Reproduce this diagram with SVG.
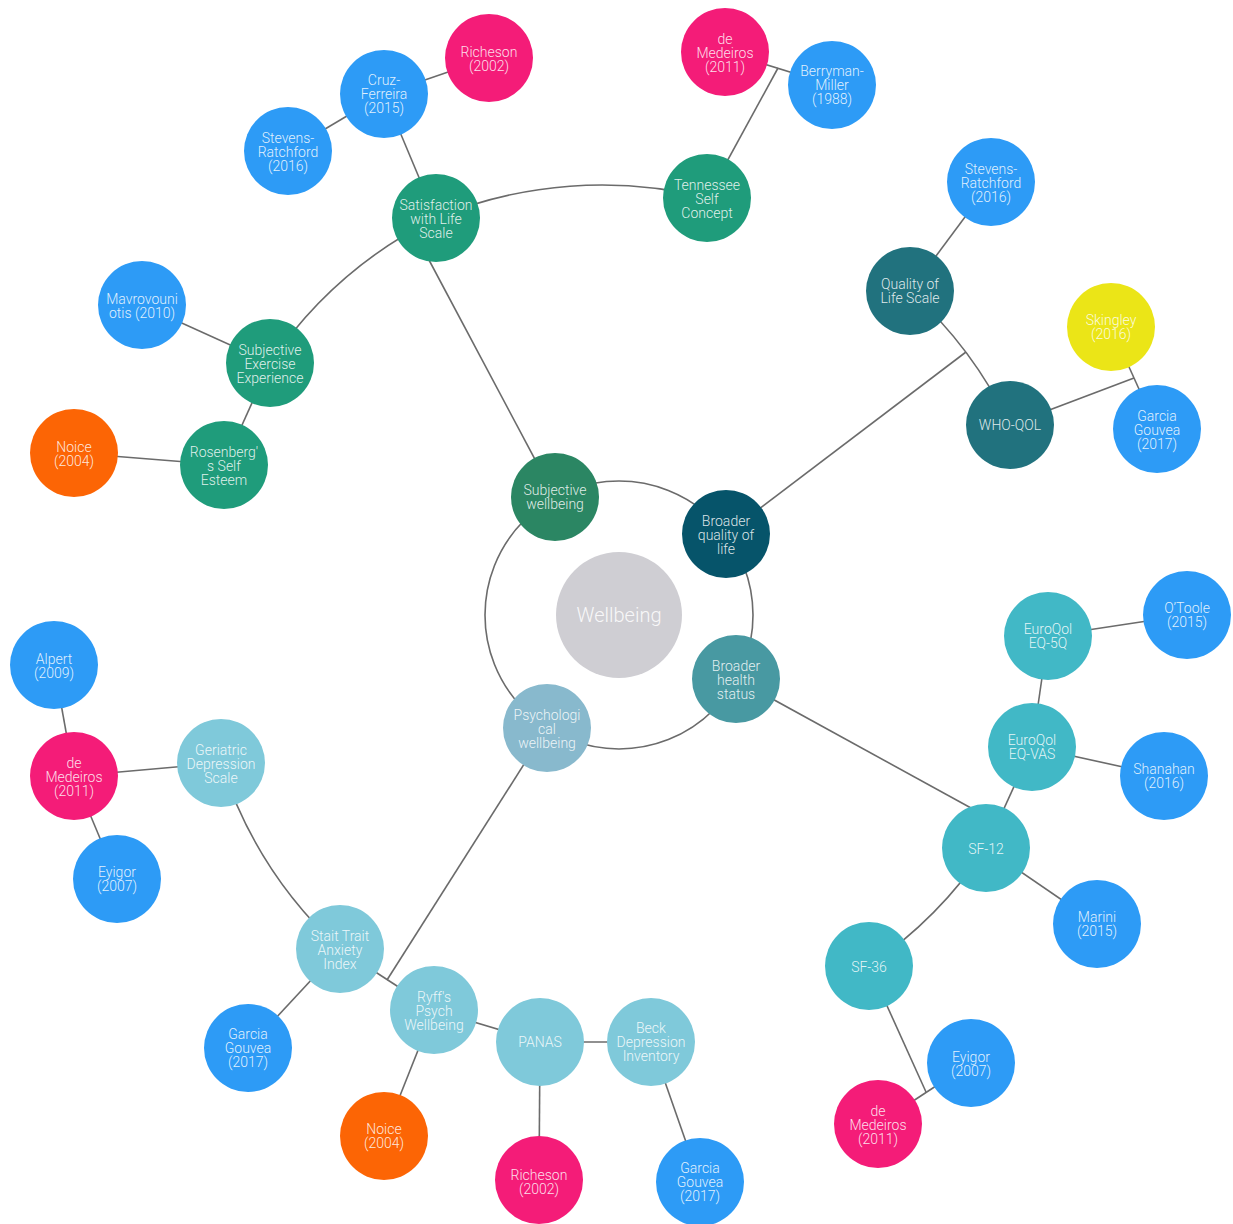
<svg xmlns="http://www.w3.org/2000/svg" width="1233" height="1224" viewBox="0 0 1233 1224">
<style>
.e{fill:none;stroke:#6b6b6b;stroke-width:1.6}
text{font-family:Roboto,"Liberation Sans",sans-serif;font-weight:300;font-size:14px;fill:#fff;fill-opacity:0.86;text-anchor:middle}
.ref{fill:#2d9bf6}.pink{fill:#f41c78}.org{fill:#fc6505}.yel{fill:#ebe517}
.grn{fill:#1f9c7b}.teal{fill:#21727e}.sf{fill:#41b8c6}.psy{fill:#7fc9da}
</style>
<rect width="1233" height="1224" fill="#fff"/>
<g id="connectors">
<circle class="e" cx="619" cy="615" r="134"/>
<path class="e" d="M555,497 L429,260"/>
<path class="e" d="M436,218 L384,94"/>
<path class="e" d="M384,94 L489,58"/>
<path class="e" d="M384,94 L288,151"/>
<path class="e" d="M436,218 A433,433 0 0 1 707,198"/>
<path class="e" d="M270,363 A433,433 0 0 1 436,218"/>
<path class="e" d="M707,198 L778,68"/>
<path class="e" d="M725,52 L832,85"/>
<path class="e" d="M270,363 L142,305"/>
<path class="e" d="M270,363 L224,465"/>
<path class="e" d="M224,465 L74,453"/>
<path class="e" d="M726,534 L966,352"/>
<path class="e" d="M910,291 A433,433 0 0 1 1010,425"/>
<path class="e" d="M910,291 L991,182"/>
<path class="e" d="M1010,425 L1134,378"/>
<path class="e" d="M1111,327 L1157,429"/>
<path class="e" d="M736,679 L971,808"/>
<path class="e" d="M986,848 L1032,747"/>
<path class="e" d="M1032,747 L1048,636"/>
<path class="e" d="M1048,636 L1187,615"/>
<path class="e" d="M1032,747 L1164,776"/>
<path class="e" d="M986,848 L1097,924"/>
<path class="e" d="M986,848 A433,433 0 0 1 869,966"/>
<path class="e" d="M869,966 L926,1092"/>
<path class="e" d="M971,1063 L878,1124"/>
<path class="e" d="M547,728 L387,980"/>
<path class="e" d="M340,949 L434,1010"/>
<path class="e" d="M340,949 L248,1048"/>
<path class="e" d="M434,1010 L384,1136"/>
<path class="e" d="M434,1010 L540,1042"/>
<path class="e" d="M540,1042 L651,1042"/>
<path class="e" d="M540,1042 L539,1180"/>
<path class="e" d="M651,1042 L700,1182"/>
<path class="e" d="M340,949 A433,433 0 0 1 221,763"/>
<path class="e" d="M221,763 L74,776"/>
<path class="e" d="M74,776 L54,665"/>
<path class="e" d="M74,776 L117,879"/>
</g>
<g id="n-wellbeing"><circle cx="619" cy="615" r="63" fill="#cfced3"/><text x="619" y="622" style="font-size:20px">Wellbeing</text></g>
<g id="n-subjective"><circle cx="555" cy="497" r="44" fill="#2b8663"/><text x="555" y="495">Subjective</text><text x="555" y="509">wellbeing</text></g>
<g id="n-bqol"><circle cx="726" cy="534" r="44" fill="#06546a"/><text x="726" y="526">Broader</text><text x="726" y="540">quality of</text><text x="726" y="554">life</text></g>
<g id="n-bhs"><circle cx="736" cy="679" r="44" fill="#4899a2"/><text x="736" y="671">Broader</text><text x="736" y="685">health</text><text x="736" y="699">status</text></g>
<g id="n-psych"><circle cx="547" cy="728" r="44" fill="#88b9cd"/><text x="547" y="720">Psychologi</text><text x="547" y="734">cal</text><text x="547" y="748">wellbeing</text></g>
<g id="n-swls"><circle class="grn" cx="436" cy="218" r="44"/><text x="436" y="210">Satisfaction</text><text x="436" y="224">with Life</text><text x="436" y="238">Scale</text></g>
<g id="n-cruz"><circle class="ref" cx="384" cy="94" r="44"/><text x="384" y="85">Cruz-</text><text x="384" y="99">Ferreira</text><text x="384" y="113">(2015)</text></g>
<g id="n-richeson1"><circle class="pink" cx="489" cy="58" r="44"/><text x="489" y="57">Richeson</text><text x="489" y="71">(2002)</text></g>
<g id="n-stevens1"><circle class="ref" cx="288" cy="151" r="44"/><text x="288" y="143">Stevens-</text><text x="288" y="157">Ratchford</text><text x="288" y="171">(2016)</text></g>
<g id="n-tennessee"><circle class="grn" cx="707" cy="198" r="44"/><text x="707" y="190">Tennessee</text><text x="707" y="204">Self</text><text x="707" y="218">Concept</text></g>
<g id="n-demedeiros1"><circle class="pink" cx="725" cy="52" r="44"/><text x="725" y="44">de</text><text x="725" y="58">Medeiros</text><text x="725" y="72">(2011)</text></g>
<g id="n-berryman"><circle class="ref" cx="832" cy="85" r="44"/><text x="832" y="76">Berryman-</text><text x="832" y="90">Miller</text><text x="832" y="104">(1988)</text></g>
<g id="n-see"><circle class="grn" cx="270" cy="363" r="44"/><text x="270" y="355">Subjective</text><text x="270" y="369">Exercise</text><text x="270" y="383">Experience</text></g>
<g id="n-mavro"><circle class="ref" cx="142" cy="305" r="44"/><text x="142" y="304">Mavrovouni</text><text x="142" y="318">otis (2010)</text></g>
<g id="n-rosenberg"><circle class="grn" cx="224" cy="465" r="44"/><text x="224" y="457">Rosenberg'</text><text x="224" y="471">s Self</text><text x="224" y="485">Esteem</text></g>
<g id="n-noice1"><circle class="org" cx="74" cy="453" r="44"/><text x="74" y="452">Noice</text><text x="74" y="466">(2004)</text></g>
<g id="n-qol"><circle class="teal" cx="910" cy="291" r="44"/><text x="910" y="289">Quality of</text><text x="910" y="303">Life Scale</text></g>
<g id="n-stevens2"><circle class="ref" cx="991" cy="182" r="44"/><text x="991" y="174">Stevens-</text><text x="991" y="188">Ratchford</text><text x="991" y="202">(2016)</text></g>
<g id="n-whoqol"><circle class="teal" cx="1010" cy="425" r="44"/><text x="1010" y="430">WHO-QOL</text></g>
<g id="n-skingley"><circle class="yel" cx="1111" cy="327" r="44"/><text x="1111" y="325">Skingley</text><text x="1111" y="339">(2016)</text></g>
<g id="n-garcia1"><circle class="ref" cx="1157" cy="429" r="44"/><text x="1157" y="421">Garcia</text><text x="1157" y="435">Gouvea</text><text x="1157" y="449">(2017)</text></g>
<g id="n-sf12"><circle class="sf" cx="986" cy="848" r="44"/><text x="986" y="854">SF-12</text></g>
<g id="n-eqvas"><circle class="sf" cx="1032" cy="747" r="44"/><text x="1032" y="745">EuroQol</text><text x="1032" y="759">EQ-VAS</text></g>
<g id="n-eq5q"><circle class="sf" cx="1048" cy="636" r="44"/><text x="1048" y="634">EuroQol</text><text x="1048" y="648">EQ-5Q</text></g>
<g id="n-otoole"><circle class="ref" cx="1187" cy="615" r="44"/><text x="1187" y="613">O’Toole</text><text x="1187" y="627">(2015)</text></g>
<g id="n-shanahan"><circle class="ref" cx="1164" cy="776" r="44"/><text x="1164" y="774">Shanahan</text><text x="1164" y="788">(2016)</text></g>
<g id="n-marini"><circle class="ref" cx="1097" cy="924" r="44"/><text x="1097" y="922">Marini</text><text x="1097" y="936">(2015)</text></g>
<g id="n-sf36"><circle class="sf" cx="869" cy="966" r="44"/><text x="869" y="972">SF-36</text></g>
<g id="n-eyigor1"><circle class="ref" cx="971" cy="1063" r="44"/><text x="971" y="1062">Eyigor</text><text x="971" y="1076">(2007)</text></g>
<g id="n-demedeiros2"><circle class="pink" cx="878" cy="1124" r="44"/><text x="878" y="1116">de</text><text x="878" y="1130">Medeiros</text><text x="878" y="1144">(2011)</text></g>
<g id="n-stait"><circle class="psy" cx="340" cy="949" r="44"/><text x="340" y="941">Stait Trait</text><text x="340" y="955">Anxiety</text><text x="340" y="969">Index</text></g>
<g id="n-ryff"><circle class="psy" cx="434" cy="1010" r="44"/><text x="434" y="1002">Ryff's</text><text x="434" y="1016">Psych</text><text x="434" y="1030">Wellbeing</text></g>
<g id="n-panas"><circle class="psy" cx="540" cy="1042" r="44"/><text x="540" y="1047">PANAS</text></g>
<g id="n-beck"><circle class="psy" cx="651" cy="1042" r="44"/><text x="651" y="1033">Beck</text><text x="651" y="1047">Depression</text><text x="651" y="1061">Inventory</text></g>
<g id="n-garcia2"><circle class="ref" cx="700" cy="1182" r="44"/><text x="700" y="1173">Garcia</text><text x="700" y="1187">Gouvea</text><text x="700" y="1201">(2017)</text></g>
<g id="n-richeson2"><circle class="pink" cx="539" cy="1180" r="44"/><text x="539" y="1180">Richeson</text><text x="539" y="1194">(2002)</text></g>
<g id="n-noice2"><circle class="org" cx="384" cy="1136" r="44"/><text x="384" y="1134">Noice</text><text x="384" y="1148">(2004)</text></g>
<g id="n-garcia3"><circle class="ref" cx="248" cy="1048" r="44"/><text x="248" y="1039">Garcia</text><text x="248" y="1053">Gouvea</text><text x="248" y="1067">(2017)</text></g>
<g id="n-geriatric"><circle class="psy" cx="221" cy="763" r="44"/><text x="221" y="755">Geriatric</text><text x="221" y="769">Depression</text><text x="221" y="783">Scale</text></g>
<g id="n-demedeiros3"><circle class="pink" cx="74" cy="776" r="44"/><text x="74" y="768">de</text><text x="74" y="782">Medeiros</text><text x="74" y="796">(2011)</text></g>
<g id="n-alpert"><circle class="ref" cx="54" cy="665" r="44"/><text x="54" y="664">Alpert</text><text x="54" y="678">(2009)</text></g>
<g id="n-eyigor2"><circle class="ref" cx="117" cy="879" r="44"/><text x="117" y="877">Eyigor</text><text x="117" y="891">(2007)</text></g>
</svg>
